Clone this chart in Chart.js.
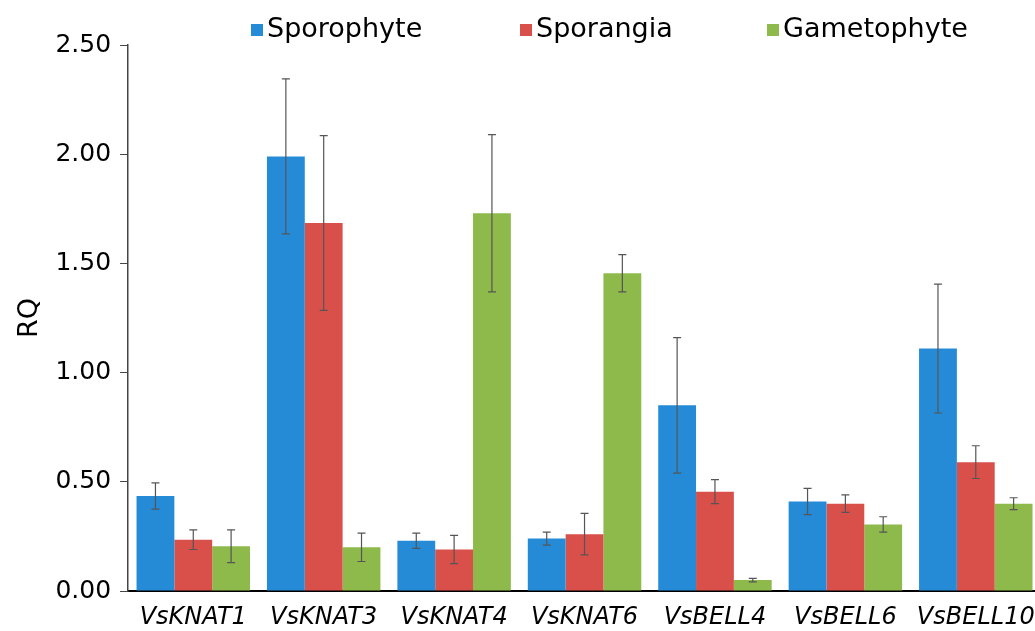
<!DOCTYPE html>
<html>
<head>
<meta charset="utf-8">
<script src="https://cdn.jsdelivr.net/npm/chart.js@4.4.1/dist/chart.umd.min.js"></script>
<style>
  html, body { margin: 0; padding: 0; background: #fff; overflow: hidden; }
  #wrap { width: 1035px; height: 631px; position: relative; overflow: hidden; }
  #box { width: 1041px; height: 631px; position: absolute; left: 0; top: 0; }
  .sw { position: absolute; width: 12px; height: 12px; top: 24px; }
  .lt { position: absolute; top: 14px; font: 27px 'DejaVu Sans', sans-serif; line-height: 27px; color: #000; white-space: nowrap; }
</style>
</head>
<body>
<div id="wrap">
  <div id="box"><canvas id="chart"></canvas></div>
  <div id="legend"></div>
</div>
<script>
const genes = ['VsKNAT1', 'VsKNAT3', 'VsKNAT4', 'VsKNAT6', 'VsBELL4', 'VsBELL6', 'VsBELL10'];

const sporophyte     = [0.435, 1.99, 0.23, 0.24, 0.85, 0.41, 1.11];
const sporophyteErr  = [0.06, 0.355, 0.035, 0.03, 0.31, 0.06, 0.295];
const sporangia      = [0.235, 1.685, 0.19, 0.26, 0.455, 0.40, 0.59];
const sporangiaErr   = [0.045, 0.40, 0.065, 0.095, 0.055, 0.04, 0.075];
const gametophyte    = [0.205, 0.20, 1.73, 1.455, 0.05, 0.305, 0.40];
const gametophyteErr = [0.075, 0.065, 0.36, 0.085, 0.008, 0.035, 0.027];

const fontName = "'DejaVu Sans', sans-serif";
const legendX = [251, 520, 767];

// error bars drawn on top of every bar
const errorBars = {
    id: 'errorBars',
    afterDatasetsDraw(chart) {
        let ctx = chart.ctx;
        let y = chart.scales.y;
        ctx.save();
        ctx.strokeStyle = '#555';
        ctx.lineWidth = 1.2;
        chart.data.datasets.forEach((ds, i) => {
            let meta = chart.getDatasetMeta(i);
            meta.data.forEach((bar, j) => {
                let v = ds.data[j], e = ds.errors[j];
                let top = y.getPixelForValue(v + e);
                let bot = y.getPixelForValue(v - e);
                ctx.beginPath();
                ctx.moveTo(bar.x, top); ctx.lineTo(bar.x, bot);
                ctx.moveTo(bar.x - 4, top); ctx.lineTo(bar.x + 4, top);
                ctx.moveTo(bar.x - 4, bot); ctx.lineTo(bar.x + 4, bot);
                ctx.stroke();
            });
        });
        ctx.restore();
    }
};

let chart = new Chart(document.getElementById('chart'), {
    type: 'bar',
    data: {
        labels: genes,
        datasets: [
            { label: 'Sporophyte', data: sporophyte, errors: sporophyteErr, backgroundColor: '#258bd7' },
            { label: 'Sporangia', data: sporangia, errors: sporangiaErr, backgroundColor: '#d9504b' },
            { label: 'Gametophyte', data: gametophyte, errors: gametophyteErr, backgroundColor: '#8dba4a' }
        ]
    },
    options: {
        responsive: true,
        maintainAspectRatio: false,
        animation: false,
        categoryPercentage: 0.87,
        barPercentage: 1.0,
        layout: { padding: { left: 7, right: 0, top: 45, bottom: -14 } },
        plugins: {
            legend: { display: false },
            tooltip: { enabled: false }
        },
        scales: {
            x: {
                grid: { display: false, drawTicks: false },
                border: { color: '#000', width: 2 },
                afterFit: s => { s.paddingRight = 0; },
                ticks: {
                    color: '#000',
                    padding: 15,
                    maxRotation: 0,
                    autoSkip: false,
                    font: { family: fontName, size: 24, style: 'italic', lineHeight: 1 }
                }
            },
            y: {
                min: 0, max: 2.5,
                grid: { display: true, drawOnChartArea: false, tickLength: 8, color: '#444' },
                border: { color: '#444', width: 1.5 },
                ticks: {
                    stepSize: 0.5,
                    color: '#000',
                    padding: 9,
                    font: { family: fontName, size: 25 },
                    callback: v => v.toFixed(2)
                },
                title: {
                    display: true,
                    text: 'RQ',
                    color: '#000',
                    padding: { top: 7, bottom: 0 },
                    font: { family: fontName, size: 27 }
                }
            }
        }
    },
    plugins: [errorBars]
});

// legend as html, built from the datasets
let legend = document.getElementById('legend');
chart.data.datasets.forEach((ds, i) => {
    let sw = document.createElement('div');
    sw.className = 'sw';
    sw.style.left = legendX[i] + 'px';
    sw.style.background = ds.backgroundColor;
    let t = document.createElement('div');
    t.className = 'lt';
    t.style.left = (legendX[i] + 16) + 'px';
    t.textContent = ds.label;
    legend.appendChild(sw);
    legend.appendChild(t);
});
</script>
</body>
</html>
